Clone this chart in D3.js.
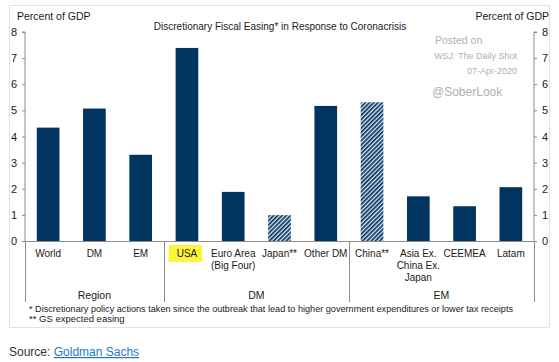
<!DOCTYPE html>
<html>
<head>
<meta charset="utf-8">
<script src="https://cdn.jsdelivr.net/npm/d3@7"></script>
<style>
  body { margin: 0; background: #fff; }
  svg { font-family: "Liberation Sans", Arial, sans-serif; display: block; }
</style>
</head>
<body>
<svg id="chart"></svg>
<script>
// chart data
const categories = ["World", "DM", "EM", "USA", "Euro Area|(Big Four)", "Japan**", "Other DM",
                    "China**", "Asia Ex.|China Ex.|Japan", "CEEMEA", "Latam"];
const values = [4.34, 5.07, 3.30, 7.39, 1.88, 0.99, 5.17, 5.31, 1.71, 1.33, 2.06];
const expected = ["Japan**", "China**"];     // GS expected easing -> hatched
const groupNames = ["Region", "DM", "EM"];
const groupSizes = [3, 4, 4];
const yTicks = [0, 1, 2, 3, 4, 5, 6, 7, 8];

const width = 559, height = 362;
const plotLeft = 25, plotRight = 534, plotTop = 32, plotBottom = 241;
const navy = "#013461";

const svg = d3.select("#chart").attr("width", width).attr("height", height);

const defs = svg.append("defs");
const pat = defs.append("pattern")
    .attr("id", "hatch")
    .attr("patternUnits", "userSpaceOnUse")
    .attr("width", 3).attr("height", 3)
    .attr("patternTransform", "rotate(45)");
pat.append("rect").attr("width", 3).attr("height", 3).attr("fill", "#e4ebf3");
pat.append("rect").attr("width", 1.7).attr("height", 3).attr("fill", navy);

// frame
svg.append("rect")
    .attr("x", 9.5).attr("y", 5.5).attr("width", 540).attr("height", 322)
    .attr("fill", "none").attr("stroke", "#e2e2e2");

const x = d3.scaleBand().domain(categories).range([plotLeft, plotRight])
    .paddingInner(0.51).paddingOuter(0.255);
const y = d3.scaleLinear().domain([0, 8]).range([plotBottom, plotTop]);

// axes
const axisL = svg.append("g").attr("transform", `translate(${plotLeft},0)`)
    .call(d3.axisLeft(y).tickValues(yTicks).tickSize(3).tickPadding(5).tickFormat(d3.format("d")));
const axisR = svg.append("g").attr("transform", `translate(${plotRight},0)`)
    .call(d3.axisRight(y).tickValues(yTicks).tickSize(3).tickPadding(5).tickFormat(d3.format("d")));
[axisL, axisR].forEach(a => {
  a.select(".domain").attr("stroke", "#8c8c8c");
  a.selectAll(".tick line").attr("stroke", "#8c8c8c");
  a.selectAll(".tick text").attr("font-size", 11).attr("fill", "#1a1a1a")
      .attr("font-family", "Liberation Sans, Arial, sans-serif");
});
axisR.select(".domain").attr("d", `M0,${plotBottom}V${plotTop}H3`);
axisL.select(".domain").attr("d", `M0,${plotBottom}V${plotTop}H-3`);

// USA highlight
svg.append("rect")
    .attr("x", x("USA") - 7).attr("y", 245)
    .attr("width", x.bandwidth() + 11).attr("height", 17)
    .attr("fill", "#fbf63c");

// bars
svg.append("g").selectAll("rect")
  .data(categories)
  .join("rect")
    .attr("x", d => x(d))
    .attr("width", x.bandwidth())
    .attr("y", (d, i) => y(values[i]))
    .attr("height", (d, i) => y(0) - y(values[i]))
    .attr("fill", d => expected.includes(d) ? "url(#hatch)" : navy);

// baseline
svg.append("line")
    .attr("x1", plotLeft - 3).attr("x2", plotRight + 3)
    .attr("y1", plotBottom + 0.5).attr("y2", plotBottom + 0.5)
    .attr("stroke", "#8c8c8c");

// category labels
const lab = svg.append("g").attr("font-size", 10).attr("fill", "#1a1a1a").attr("text-anchor", "middle");
categories.forEach(c => {
  const t = lab.append("text").attr("x", x(c) + x.bandwidth() / 2).attr("y", 257);
  c.split("|").forEach((line, i) => {
    t.append("tspan").attr("x", x(c) + x.bandwidth() / 2).attr("dy", i ? 12 : 0).text(line);
  });
});

// group separators and labels
const gap = (x.step() - x.bandwidth()) / 2;
let start = 0;
const bounds = [plotLeft];
groupSizes.forEach((n, gi) => {
  const x0 = x(categories[start]) - gap;
  const x1 = x(categories[start + n - 1]) + x.bandwidth() + gap;
  bounds.push(x1);
  lab.append("text").attr("x", (x0 + x1) / 2).attr("y", 299).attr("font-size", 10.5)
      .text(groupNames[gi]);
  start += n;
});
svg.append("g").selectAll("line").data(bounds).join("line")
    .attr("x1", d => Math.round(d) + 0.5).attr("x2", d => Math.round(d) + 0.5)
    .attr("y1", plotBottom).attr("y2", 302)
    .attr("stroke", "#8c8c8c");

// titles
svg.append("text").attr("x", 17).attr("y", 20).attr("font-size", 10.5).attr("fill", "#1a1a1a")
    .text("Percent of GDP");
svg.append("text").attr("x", 549).attr("y", 20).attr("font-size", 10.5).attr("fill", "#1a1a1a")
    .attr("text-anchor", "end").text("Percent of GDP");
svg.append("text").attr("x", 280).attr("y", 30).attr("font-size", 10).attr("fill", "#1a1a1a")
    .attr("text-anchor", "middle").text("Discretionary Fiscal Easing* in Response to Coronacrisis");

// watermark
const wm = svg.append("g").attr("fill", "#b0b0b0");
wm.append("text").attr("x", 435).attr("y", 44).attr("font-size", 10.5).text("Posted on");
wm.append("text").attr("x", 517).attr("y", 59).attr("font-size", 9).attr("text-anchor", "end")
    .text("WSJ: The Daily Shot");
wm.append("text").attr("x", 517).attr("y", 74).attr("font-size", 9).attr("text-anchor", "end")
    .text("07-Apr-2020");
wm.append("text").attr("x", 432).attr("y", 96).attr("font-size", 12).text("@SoberLook");

// footnotes
svg.append("text").attr("x", 29).attr("y", 312).attr("font-size", 9.5).attr("fill", "#1a1a1a")
    .attr("textLength", 484).attr("lengthAdjust", "spacingAndGlyphs")
    .text("* Discretionary policy actions taken since the outbreak that lead to higher government expenditures or lower tax receipts");
svg.append("text").attr("x", 29).attr("y", 322).attr("font-size", 9.5).attr("fill", "#1a1a1a")
    .text("** GS expected easing");

// source
const src = svg.append("text").attr("x", 9).attr("y", 356).attr("font-size", 12).attr("fill", "#333");
src.append("tspan").text("Source: ");
src.append("tspan").attr("fill", "#1f7ac4").attr("text-decoration", "underline").text("Goldman Sachs");
</script>
</body>
</html>
